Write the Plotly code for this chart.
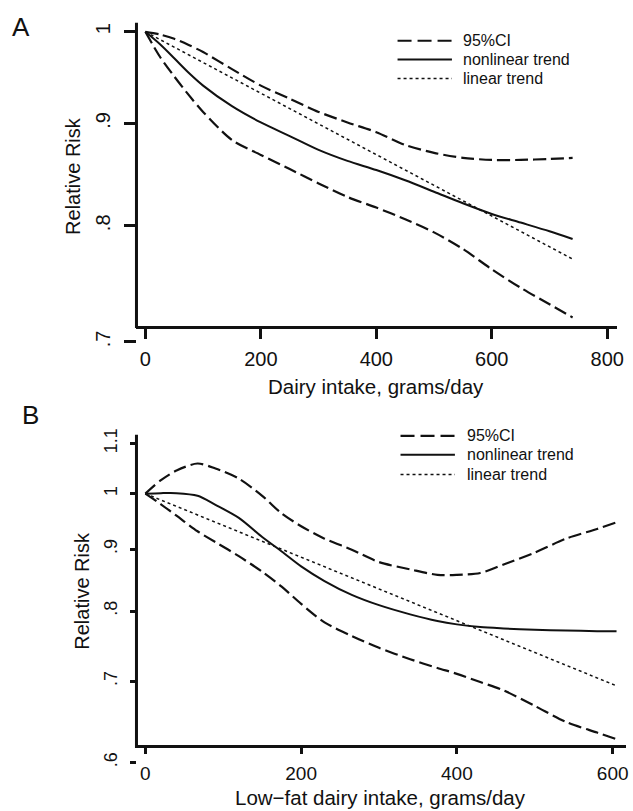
import plotly.graph_objects as go

# ---------------- data ----------------
# Panel A: dairy intake (g/day) vs relative risk
a_x = [0, 25, 50, 75, 100, 150, 200, 250, 300, 350, 400, 450, 500, 550, 600, 650, 700, 740]
a_upper = [1.000, 0.997, 0.992, 0.985, 0.977, 0.958, 0.940, 0.926, 0.912, 0.901, 0.891,
           0.878, 0.870, 0.865, 0.863, 0.863, 0.864, 0.865]
a_nonlin = [1.000, 0.986, 0.970, 0.954, 0.940, 0.918, 0.901, 0.887, 0.873, 0.862, 0.853,
            0.843, 0.832, 0.821, 0.811, 0.803, 0.795, 0.788]
a_lower = [1.000, 0.972, 0.950, 0.930, 0.912, 0.883, 0.868, 0.854, 0.840, 0.827, 0.817,
           0.806, 0.794, 0.779, 0.761, 0.745, 0.731, 0.720]
a_lin_x = [0, 200, 400, 600, 740]
a_lin = [1.000, 0.932, 0.868, 0.809, 0.770]

# Panel B: low-fat dairy intake (g/day) vs relative risk
b_x = [0, 20, 40, 67, 90, 120, 150, 175, 200, 230, 265, 300, 340, 375, 400, 430, 460, 500, 540, 580, 605]
b_upper = [1.000, 1.026, 1.045, 1.059, 1.049, 1.029, 0.996, 0.963, 0.940, 0.918, 0.899,
           0.878, 0.866, 0.857, 0.857, 0.860, 0.874, 0.894, 0.918, 0.935, 0.947]
b_nonlin = [1.000, 1.001, 1.001, 0.996, 0.979, 0.955, 0.921, 0.896, 0.871, 0.847, 0.825,
            0.809, 0.795, 0.785, 0.780, 0.776, 0.774, 0.772, 0.771, 0.770, 0.770]
b_lower = [1.000, 0.980, 0.959, 0.931, 0.912, 0.888, 0.862, 0.838, 0.811, 0.783, 0.763,
           0.746, 0.730, 0.718, 0.710, 0.699, 0.688, 0.668, 0.648, 0.635, 0.627]
b_lin_x = [0, 200, 400, 605]
b_lin = [1.000, 0.886, 0.785, 0.694]

a_xticks = [0, 200, 400, 600, 800]
a_yticks = [1.0, 0.9, 0.8, 0.7]
a_ytext = ["1", ".9", ".8", ".7"]
b_xticks = [0, 200, 400, 600]
b_yticks = [1.1, 1.0, 0.9, 0.8, 0.7, 0.6]
b_ytext = ["1.1", "1", ".9", ".8", ".7", ".6"]

legend_labels = ["95%CI", "nonlinear trend", "linear trend"]

# ---------------- layout helpers ----------------
W, H = 633, 811
def px(x):
    return x / W
def py(y):
    return 1 - y / H

FONT = "Liberation Sans, Arial, Helvetica, sans-serif"
INK = "#111111"
CI_DASH = "13px,5px"
DOT = "3px,3px"

fig = go.Figure()

def add_panel(xs, up, nl, lo, lx, ll, xa, ya):
    fig.add_trace(go.Scatter(x=xs, y=up, mode="lines", xaxis=xa, yaxis=ya, showlegend=False,
                             line=dict(color=INK, width=2.2, dash=CI_DASH, shape="spline", smoothing=0.8)))
    fig.add_trace(go.Scatter(x=xs, y=lo, mode="lines", xaxis=xa, yaxis=ya, showlegend=False,
                             line=dict(color=INK, width=2.2, dash=CI_DASH, shape="spline", smoothing=0.8)))
    fig.add_trace(go.Scatter(x=xs, y=nl, mode="lines", xaxis=xa, yaxis=ya, showlegend=False,
                             line=dict(color=INK, width=2.0, shape="spline", smoothing=0.8)))
    fig.add_trace(go.Scatter(x=lx, y=ll, mode="lines", xaxis=xa, yaxis=ya, showlegend=False,
                             line=dict(color=INK, width=1.5, dash=DOT)))

add_panel(a_x, a_upper, a_nonlin, a_lower, a_lin_x, a_lin, "x", "y")
add_panel(b_x, b_upper, b_nonlin, b_lower, b_lin_x, b_lin, "x2", "y2")

# Panel A geometry (pixels): x px = 147 + 0.5838*x ; y px = 26 - 2017*log10(v)
a_xr = [(138 - 147) / 0.5838, (624 - 147) / 0.5838]
a_yr = [(26 - 345) / 2017.0, (26 - 17) / 2017.0]
# Panel B geometry: x px = 147 + 0.7875*x ; y px = 491.3 - 1220.4*log10(v)
b_xr = [(138 - 147) / 0.7875, (633 - 147) / 0.7875]
b_yr = [(491.3 - 770) / 1220.4, (491.3 - 432) / 1220.4]

fig.update_layout(
    width=W, height=H,
    margin=dict(l=0, r=0, t=0, b=0),
    paper_bgcolor="white", plot_bgcolor="white",
    font=dict(family=FONT, color=INK),
    showlegend=False,
    xaxis=dict(domain=[px(138), px(624)], range=a_xr, anchor="free", position=py(323),
               showline=True, linecolor=INK, linewidth=3, showgrid=False, zeroline=False,
               tickmode="array", tickvals=a_xticks, ticks="outside", ticklen=10, tickwidth=2.5,
               tickcolor=INK, tickfont=dict(size=20, color=INK), ticklabelstandoff=3),
    yaxis=dict(domain=[py(345), py(17)], type="log", range=a_yr, anchor="free", position=px(138),
               showline=False, showgrid=False, zeroline=False,
               tickmode="array", tickvals=a_yticks, ticktext=a_ytext, ticks="outside", ticklen=12,
               tickwidth=2.5, tickcolor=INK, tickangle=-90, tickfont=dict(size=20, color=INK),
               ticklabelstandoff=6),
    xaxis2=dict(domain=[px(138), px(633)], range=b_xr, anchor="free", position=py(746),
                showline=True, linecolor=INK, linewidth=3, showgrid=False, zeroline=False,
                tickmode="array", tickvals=b_xticks, ticks="outside", ticklen=6, tickwidth=2.5,
                tickcolor=INK, tickfont=dict(size=19, color=INK), ticklabelstandoff=3),
    yaxis2=dict(domain=[py(770), py(432)], type="log", range=b_yr, anchor="free", position=px(138),
                showline=False, showgrid=False, zeroline=False,
                tickmode="array", tickvals=b_yticks, ticktext=b_ytext, ticks="outside", ticklen=6,
                tickwidth=2.5, tickcolor=INK, tickangle=-90, tickfont=dict(size=18, color=INK),
                ticklabelstandoff=6),
)

shapes = []
# y-axis lines that stop at the x-axis (ticks below it stay free-floating, as in the original)
shapes.append(dict(type="line", xref="paper", yref="paper", x0=px(138), x1=px(138),
                   y0=py(17), y1=py(324.5), line=dict(color=INK, width=3)))
shapes.append(dict(type="line", xref="paper", yref="paper", x0=px(138), x1=px(138),
                   y0=py(432), y1=py(747.5), line=dict(color=INK, width=3)))

annotations = []
def legend_block(x0, x1, tx, rows):
    styles = [dict(dash="14px,6px", width=2.2), dict(dash="solid", width=2.0), dict(dash=DOT, width=1.6)]
    for yrow, st, lab in zip(rows, styles, legend_labels):
        shapes.append(dict(type="line", xref="paper", yref="paper", x0=px(x0), x1=px(x1),
                           y0=py(yrow), y1=py(yrow), line=dict(color=INK, width=st["width"], dash=st["dash"])))
        annotations.append(dict(x=px(tx), y=py(yrow), xref="paper", yref="paper", text=lab,
                                showarrow=False, xanchor="left", yanchor="middle",
                                font=dict(size=16, color=INK, family=FONT)))

legend_block(402, 457, 466, [35, 54, 73])
legend_block(405, 460, 470, [433, 452, 472])

def label(x, y, text, size, angle=0):
    annotations.append(dict(x=px(x), y=py(y), xref="paper", yref="paper", text=text,
                            showarrow=False, xanchor="center", yanchor="middle", textangle=angle,
                            font=dict(size=size, color=INK, family=FONT)))

label(21, 21, "A", 26)
label(31, 412, "B", 26)
label(380, 383, "Dairy intake, grams/day", 20.5)
label(385, 797, "Low\u2212fat dairy intake, grams/day", 20.5)
label(74, 171, "Relative Risk", 20, -90)
label(83, 589, "Relative Risk", 20, -90)

fig.update_layout(shapes=shapes, annotations=annotations)

fig.write_html("out.html")
